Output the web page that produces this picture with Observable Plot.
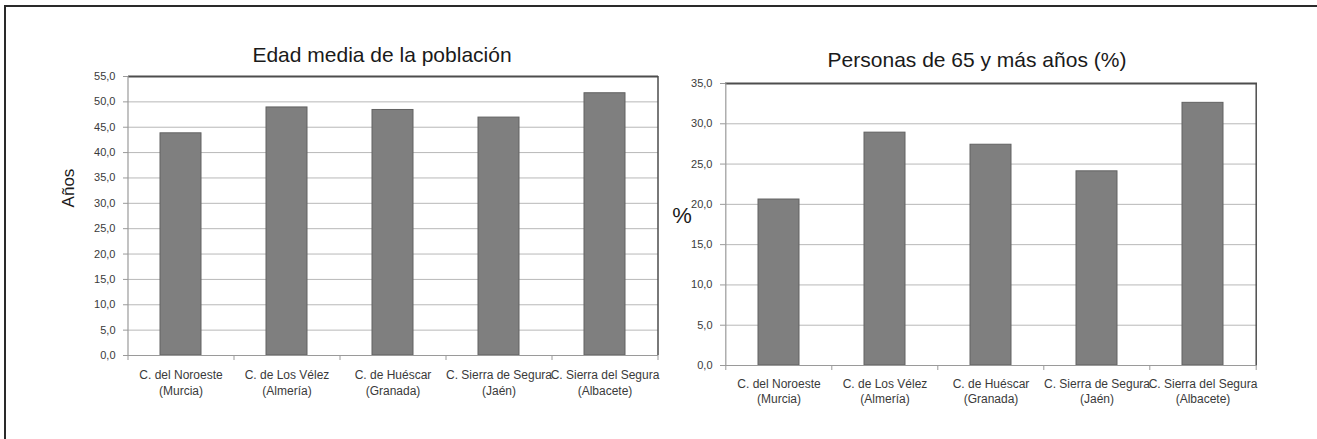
<!DOCTYPE html>
<html>
<head>
<meta charset="utf-8">
<script src="https://cdn.jsdelivr.net/npm/d3@7"></script>
<script src="https://cdn.jsdelivr.net/npm/@observablehq/plot@0.6"></script>
<style>
  html, body { margin: 0; padding: 0; background: #fff; }
  #wrap { position: relative; width: 1317px; height: 439px; overflow: hidden; font-family: "Liberation Sans", Arial, sans-serif; }
  #frame { position: absolute; left: 4px; top: 5px; width: 1400px; height: 500px; border-top: 2px solid #2a2a2a; border-left: 2px solid #2a2a2a; }
  .title { position: absolute; font-size: 21px; color: #1a1a1a; white-space: nowrap; transform: translate(-50%, -50%); }
  .ylab { position: absolute; color: #1a1a1a; white-space: nowrap; }
  .chart { position: absolute; top: 0; }
</style>
</head>
<body>
<div id="wrap">
  <div id="frame"></div>
  <div class="title" style="left:382px; top:55px;">Edad media de la población</div>
  <div class="title" style="left:977px; top:60px;">Personas de 65 y más años (%)</div>
  <div class="ylab" style="left:69px; top:188px; font-size:17px; transform: translate(-50%,-50%) rotate(-90deg);">Años</div>
  <div class="ylab" style="left:682px; top:216px; font-size:22px; transform: translate(-50%,-50%);">%</div>
  <div class="chart" id="c1" style="left:0px;"></div>
  <div class="chart" id="c2" style="left:660px;"></div>
</div>
<script>
// Data
const categorias = [
  "C. del Noroeste\n(Murcia)",
  "C. de Los Vélez\n(Almería)",
  "C. de Huéscar\n(Granada)",
  "C. Sierra de Segura\n(Jaén)",
  "C. Sierra del Segura\n(Albacete)"
];
const edadMedia = [43.8, 48.9, 48.4, 46.9, 51.7];
const mayores65 = [20.6, 28.9, 27.4, 24.1, 32.6];
const ticksEdad = [0, 5, 10, 15, 20, 25, 30, 35, 40, 45, 50, 55];
const ticksMayores = [0, 5, 10, 15, 20, 25, 30, 35];

const fmt = d => d.toFixed(1).replace(".", ",");
const FONT = "Liberation Sans, Arial, sans-serif";

function chart({values, ticks, ymax, width, height, mL, mR, mT, mB, labelPad, lineHeight}) {
  const data = categorias.map((c, i) => ({c, v: values[i]}));
  const step = (width - mL - mR) / categorias.length;
  return Plot.plot({
    width, height,
    marginLeft: mL, marginRight: mR, marginTop: mT, marginBottom: mB,
    style: {fontFamily: FONT, background: "transparent"},
    x: {domain: categorias, paddingInner: 0.61, paddingOuter: 0.305, axis: null},
    y: {domain: [0, ymax], nice: false, axis: null},
    marks: [
      Plot.gridY(ticks, {stroke: "#b8b8b8", strokeOpacity: 1, strokeWidth: 1}),
      Plot.barY(data, {x: "c", y: "v", fill: "#7f7f7f", stroke: "#626262", strokeWidth: 1}),
      Plot.ruleY([0], {stroke: "#9a9a9a", strokeWidth: 1.2}),
      Plot.ruleY([ymax], {stroke: "#4d4d4d", strokeWidth: 2}),
      Plot.ruleX([categorias[0]], {dx: -step / 2, stroke: "#9a9a9a", strokeWidth: 1.2}),
      Plot.ruleX([categorias[categorias.length - 1]], {dx: step / 2, stroke: "#4d4d4d", strokeWidth: 1.5}),
      Plot.ruleX(categorias, {x: d => d, dx: -step / 2, y1: 0, y2: 0, insetBottom: -5, stroke: "#9a9a9a"}),
      Plot.ruleX([categorias[categorias.length - 1]], {x: d => d, dx: step / 2, y1: 0, y2: 0, insetBottom: -5, stroke: "#9a9a9a"}),
      Plot.axisY({ticks, tickFormat: fmt, tickSize: 5, tickPadding: 8, fontSize: 11, stroke: "#9a9a9a", fill: "#3a3a3a", label: null}),
      Plot.axisX({tickSize: 0, tickPadding: labelPad, fontSize: 12, lineHeight, fill: "#3a3a3a", label: null})
    ]
  });
}

document.getElementById("c1").appendChild(chart({
  values: edadMedia, ticks: ticksEdad, ymax: 55,
  width: 660, height: 439, mL: 128, mR: 2, mT: 76, mB: 84, labelPad: 12, lineHeight: 1.33
}));
document.getElementById("c2").appendChild(chart({
  values: mayores65, ticks: ticksMayores, ymax: 35,
  width: 657, height: 439, mL: 65, mR: 60, mT: 83, mB: 74, labelPad: 12, lineHeight: 1.25
}));
</script>
</body>
</html>
